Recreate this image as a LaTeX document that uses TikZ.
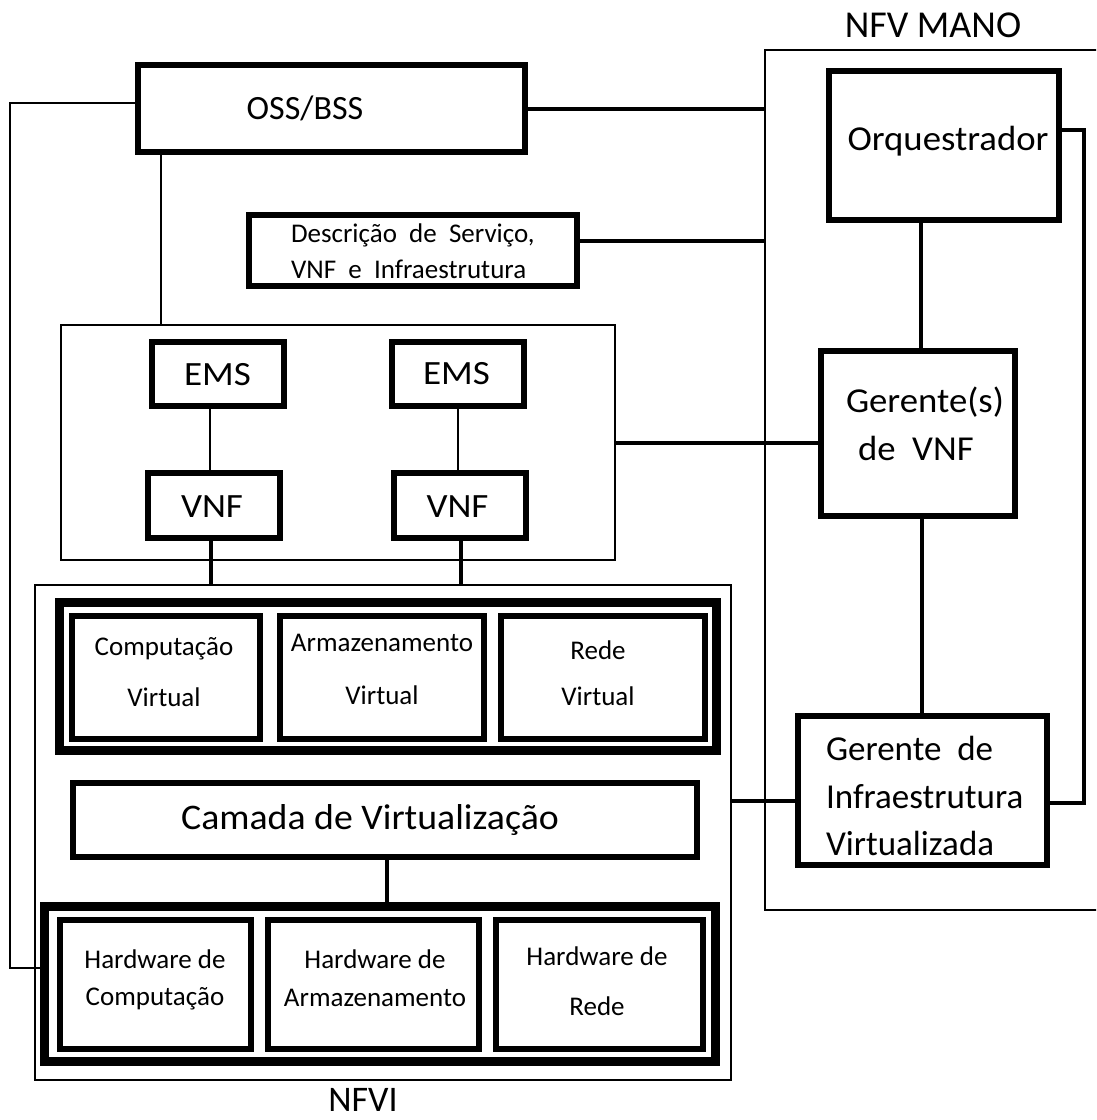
\documentclass[tikz,border=0pt]{standalone}
\usepackage{fontspec}
\setmainfont{Carlito}
\newfontfamily\wideA[FakeStretch=1.05]{Carlito}
\newfontfamily\wideB[FakeStretch=1.09]{Carlito}
\begin{document}
\begin{tikzpicture}[x=1pt,y=-1pt,
  every node/.style={inner sep=0pt,outer sep=0pt,align=center},
  frame/.style={draw,line width=1.3pt},
  heavy/.style={draw,line width=6pt},
  heavier/.style={draw,line width=9pt},
  thinc/.style={line width=1.3pt},
  thickc/.style={line width=4pt},
  sz/.style 2 args={minimum width=#1,minimum height=#2}]
\path[use as bounding box,clip] (0,0) rectangle (1096,1120);

% NFV MANO domain
\node[frame,sz={345}{860}] (mano) at (937.5,480) {};
\node[font=\fontsize{38}{44}\selectfont] (manolabel) at (933,25) {NFV MANO};
\node[heavy,sz={230}{149}] (orq) at (944,145.5) {};
\node[font=\wideA\fontsize{35}{40}\selectfont] (orqtext) at (948,141) {Orquestrador};
\node[heavy,sz={194}{165}] (gvnf) at (918,433.5) {};
\node[anchor=west,align=left,font=\wideA\fontsize{35}{48}\selectfont] (gvnftext) at (846,424)
  {Gerente(s)\\\hspace{12pt}de\ \ VNF};
\node[heavy,sz={249}{149}] (vim) at (922.5,790.5) {};
\node[anchor=west,align=left,font=\fontsize{35}{47.5}\selectfont] (vimtext) at (826,796)
  {Gerente\ \ de\\Infraestrutura\\Virtualizada};

% OSS/BSS and descriptors
\node[heavy,sz={387}{87}] (oss) at (331.5,108.5) {};
\node[font=\fontsize{34}{40}\selectfont] (osstext) at (305,108) {OSS/BSS};
\node[heavy,sz={328}{71}] (descr) at (413,250.5) {};
\node[anchor=west,align=left,font=\fontsize{27}{36}\selectfont] (descrtext) at (291,251)
  {Descrição\ \ de\ \ Serviço,\\VNF\ \ e\ \ Infraestrutura};

% EMS / VNF group
\node[frame,sz={554}{235}] (vnfs) at (338,442.5) {};
\node[heavy,sz={132}{64}] (ems1) at (218,374) {};
\node[heavy,sz={132}{64}] (ems2) at (458,374) {};
\node[heavy,sz={132}{65}] (vnf1) at (214,505.5) {};
\node[heavy,sz={132}{65}] (vnf2) at (460,505.5) {};
\node[font=\wideB\fontsize{34}{40}\selectfont] (ems1text) at (217.5,375) {EMS};
\node[font=\wideB\fontsize{34}{40}\selectfont] (ems2text) at (456.5,374) {EMS};
\node[font=\wideB\fontsize{34}{40}\selectfont] (vnf1text) at (212,507) {VNF};
\node[font=\wideB\fontsize{34}{40}\selectfont] (vnf2text) at (457.5,507) {VNF};

% NFVI
\node[frame,sz={696}{495}] (nfvi) at (383,832.5) {};
\node[font=\fontsize{36}{40}\selectfont] (nfvilabel) at (363,1100) {NFVI};
\node[heavier,sz={657}{148}] (virt) at (388,676.5) {};
\node[heavy,sz={188}{123}] (vcomp) at (166,677.5) {};
\node[heavy,sz={204}{123}] (vstor) at (382,677.5) {};
\node[heavy,sz={204}{123}] (vnet) at (603,677.5) {};
\node[font=\fontsize{27}{51}\selectfont] (vcomptext) at (164,672) {Computação\\Virtual};
\node[font=\fontsize{27}{53}\selectfont] (vstortext) at (382,669) {Armazenamento\\Virtual};
\node[font=\fontsize{27}{46}\selectfont] (vnettext) at (598,673) {Rede\\Virtual};
\node[heavy,sz={624}{74}] (virtl) at (385,820) {};
\node[font=\wideA\fontsize{36}{40}\selectfont] (virtltext) at (370,820) {Camada de Virtualização};
\node[heavier,sz={671}{155}] (hw) at (380,984) {};
\node[heavy,sz={191}{129}] (hcomp) at (155.5,984.5) {};
\node[heavy,sz={211}{129}] (hstor) at (373.5,984.5) {};
\node[heavy,sz={207}{129}] (hnet) at (599.5,984.5) {};
\node[font=\fontsize{27}{37}\selectfont] (hcomptext) at (155,980) {Hardware de\\Computação};
\node[font=\fontsize{27}{38}\selectfont] (hstortext) at (375,978) {Hardware de\\Armazenamento};
\node[font=\fontsize{27}{50}\selectfont] (hnettext) at (597,981) {Hardware de\\Rede};

% reference points for the bent links
\coordinate (osscorner) at (10,103);
\coordinate (orqcorner) at (1084,130);

% links
\draw[thickc] (oss.east) -- (oss.east -| mano.west);
\draw[thickc] ([yshift=9.5]descr.east) -- ([yshift=9.5]descr.east -| mano.west);
\draw[thinc] (oss.west |- osscorner) -- (osscorner) |- (hw.west |- 0,968);
\draw[thinc] (oss.south -| 161,0) -- (vnfs.north -| 161,0);
\draw[thinc] (ems1.south -| 210,0) -- (vnf1.north -| 210,0);
\draw[thinc] (ems2.south -| 458,0) -- (vnf2.north -| 458,0);
\draw[thickc] (vnf1.south -| 211,0) -- (nfvi.north -| 211,0);
\draw[thickc] (vnf2.south -| 461,0) -- (nfvi.north -| 461,0);
\draw[thickc] (vnfs.east |- 0,443) -- (gvnf.west |- 0,443);
\draw[thickc] (orq.south -| 921,0) -- (gvnf.north -| 921,0);
\draw[thickc] (gvnf.south -| 922,0) -- (vim.north -| 922,0);
\draw[thickc] (orq.east |- orqcorner) -- (orqcorner) |- (vim.east |- 0,803);
\draw[thickc] (nfvi.east |- 0,801) -- (vim.west |- 0,801);
\draw[thickc] (virtl.south -| 387,0) -- (hw.north -| 387,0);
\end{tikzpicture}
\end{document}
